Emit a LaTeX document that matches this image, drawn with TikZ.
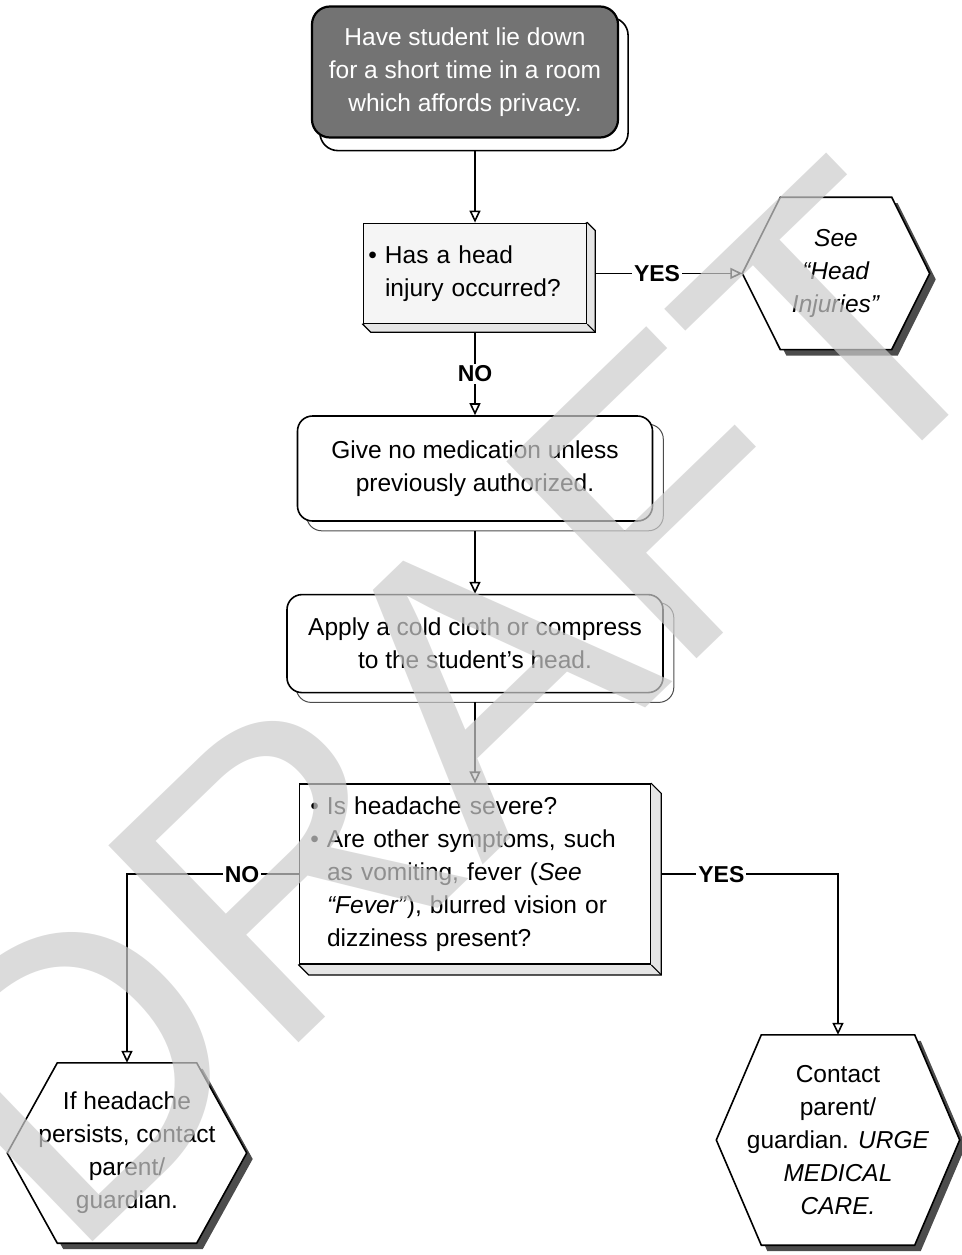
\documentclass[tikz,border=0pt]{standalone}
\usepackage{fontspec}
\setmainfont{Liberation Sans}
\usetikzlibrary{positioning,arrows.meta,backgrounds}

% outline of a hexagon drawn round a node
\newcommand{\hexpath}[2]{([xshift=#2]#1.north west) -- ([xshift=-#2]#1.north east) -- (#1.east) -- ([xshift=-#2]#1.south east) -- ([xshift=#2]#1.south west) -- (#1.west) -- cycle}
% hanging bullet
\newcommand{\bul}{\leavevmode\llap{\textbullet\ }}

\begin{document}
\begin{tikzpicture}
[x=1pt,y=-1pt,
 txt/.style={font=\fontsize{24.5}{33}\selectfont},
 darkbox/.style={txt,draw,line width=2.2pt,rounded corners=18pt,fill=black!55,text=white,align=center,minimum width=306pt,minimum height=131pt},
 slab/.style={txt,draw,line width=1.6pt,fill=gray!8,inner sep=0pt,align=left},
 roundbox/.style={txt,draw,line width=1.6pt,rounded corners=15pt,fill=white,align=center},
 hexa/.style={txt,align=center,inner sep=0pt},
 arr/.style={line width=1.6pt,-{Triangle[open,length=12pt,width=11pt]}},
 lbl/.style={font=\fontsize{23}{23}\selectfont\bfseries,fill=white,inner sep=2pt}]
\useasboundingbox (0,0) rectangle (961,1255);
\node[darkbox](have) at (465,72){Have student lie down\\for a short time in a room\\which affords privacy.};
\node[slab, below=84pt of have, xshift=10pt, minimum width=223pt, minimum height=100pt, text width=180pt](headinj){\bul Has a head\\injury occurred?};
\node[roundbox, below=91pt of headinj, minimum width=355pt, minimum height=105pt](medic){Give no medication unless\\previously authorized.};
\node[roundbox, below=72pt of medic, minimum width=376pt, minimum height=98pt](cloth){Apply a cold cloth or compress\\to the student's head.};
\node[slab, fill=white, below=90pt of cloth, minimum width=351pt, minimum height=180pt, text width=296pt](severe){\bul Is headache severe?\\\bul Are other symptoms, such\\as vomiting, fever (\textit{See}\\\textit{``Fever''}), blurred vision or\\dizziness present?};
\node[hexa, right=155pt of headinj, minimum width=187pt, minimum height=152pt](seeinj){\textit{See}\\\textit{``Head}\\\textit{Injuries''}};
\node[hexa, minimum width=239pt, minimum height=180pt](persist) at (127,1153){If headache\\persists, contact\\parent/\\guardian.};
\node[hexa, minimum width=243pt, minimum height=210pt](urge) at (838,1140){Contact\\parent/\\guardian. \textit{URGE}\\\textit{MEDICAL}\\\textit{CARE.}};

\begin{scope}[on background layer]
% plank under the first box
\draw[line width=1.6pt, fill=white, rounded corners=18pt] ([shift={(9pt,-12pt)}]have.north west) rectangle ([shift={(9pt,-12pt)}]have.south east);
% bevelled slabs
\foreach \b/\d in {headinj/8pt, severe/10pt}{
  \draw[line width=1.2pt, fill=gray!20] (\b.north east) -- ([shift={(\d,-\d)}]\b.north east) -- ([shift={(\d,-\d)}]\b.south east) -- ([shift={(\d,-\d)}]\b.south west) -- (\b.south west) -- cycle;
  \draw[line width=1pt] (\b.south east) -- ([shift={(\d,-\d)}]\b.south east);
}
% offset outline of the rounded boxes
\foreach \b in {medic, cloth}
  \draw[black!70, line width=1pt, rounded corners=15pt] ([shift={(10pt,-9pt)}]\b.north west) rectangle ([shift={(10pt,-9pt)}]\b.south east);
% hexagons
\foreach \h/\d in {seeinj/38pt, persist/50pt, urge/45pt}{
  \fill[black!70, transform canvas={shift={(6pt,-6pt)}}] \hexpath{\h}{\d};
  \draw[line width=1.6pt, fill=white] \hexpath{\h}{\d};
}
\end{scope}

\draw[arr] ([yshift=-12pt]have.south -| headinj.north) -- (headinj.north);
\draw[arr] ([yshift=-8pt]headinj.south) -- node[lbl]{NO} (medic.north);
\draw[arr] ([xshift=8pt]headinj.east) -- node[lbl, pos=0.42]{YES} (seeinj.west);
\draw[arr] ([yshift=-9pt]medic.south) -- (cloth.north);
\draw[arr] ([yshift=-9pt]cloth.south) -- (severe.north);
\draw[arr] (severe.west) -- node[lbl, pos=0.33]{NO} (severe.west -| persist.north) -- (persist.north);
\draw[arr] ([xshift=10pt]severe.east) -- node[lbl, pos=0.34]{YES} (severe.east -| urge.north) -- (urge.north);

% watermark
\node[font=\fontsize{398}{398}\selectfont, text=black!20, text opacity=0.7, rotate=44, anchor=base west, inner sep=0pt](draft) at (69,1265){DRAFT};
\end{tikzpicture}
\end{document}
